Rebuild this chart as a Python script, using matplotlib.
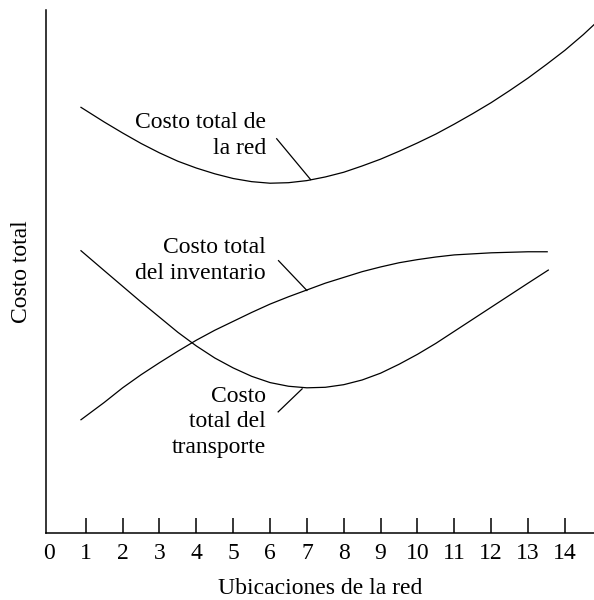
import matplotlib.pyplot as plt

plt.rcParams['font.family'] = ['Liberation Serif', 'DejaVu Serif']

# valores (unidades arbitrarias de costo, 0-100)
x_red = [0.87, 1.5, 2, 2.5, 3, 3.5, 4, 4.5, 5, 5.5, 6, 6.5, 7, 7.5, 8, 8.5, 9, 9.5,
         10, 10.5, 11, 11.5, 12, 12.5, 13, 13.5, 14, 14.5, 14.79]
costo_red = [81.4, 78.6, 76.5, 74.5, 72.7, 71.1, 69.8, 68.7, 67.8, 67.2, 66.9, 67.0, 67.4,
             68.1, 69.0, 70.2, 71.5, 73.0, 74.6, 76.3, 78.2, 80.2, 82.3, 84.6, 87.0, 89.6,
             92.3, 95.3, 97.2]

x_inv = [0.87, 1.5, 2, 2.5, 3, 3.5, 4, 4.5, 5, 5.5, 6, 6.5, 7, 7.5, 8, 8.5, 9, 9.5,
         10, 10.5, 11, 11.5, 12, 12.5, 13, 13.52]
costo_inv = [21.7, 25.0, 27.8, 30.3, 32.6, 34.8, 36.9, 38.8, 40.5, 42.2, 43.8, 45.2, 46.5,
             47.8, 48.9, 50.0, 50.9, 51.7, 52.3, 52.8, 53.2, 53.4, 53.6, 53.7, 53.8, 53.8]

x_tra = [0.87, 1.5, 2, 2.5, 3, 3.5, 4, 4.5, 5, 5.5, 6, 6.5, 7, 7.5, 8, 8.5, 9, 9.5,
         10, 10.5, 11, 11.5, 12, 12.5, 13, 13.55]
costo_tra = [54.0, 50.2, 47.2, 44.2, 41.3, 38.4, 35.8, 33.5, 31.6, 30.0, 28.8, 28.1, 27.8,
             27.9, 28.4, 29.3, 30.6, 32.3, 34.2, 36.3, 38.6, 40.9, 43.2, 45.5, 47.8, 50.3]

ubicaciones = list(range(0, 15))

fig = plt.figure(figsize=(5.94, 6.0), dpi=100)
ax = fig.add_axes([0.0774, 0.1112, 0.9226, 0.8721])

ax.plot(x_red, costo_red, color='black', lw=0.9)
ax.plot(x_inv, costo_inv, color='black', lw=0.9)
ax.plot(x_tra, costo_tra, color='black', lw=0.9)

ax.set_xlim(-0.08, 14.79)
ax.set_ylim(0, 100)

for lado in ['top', 'right']:
    ax.spines[lado].set_visible(False)
for lado in ['left', 'bottom']:
    ax.spines[lado].set_linewidth(1.1)

ax.set_xticks(ubicaciones)
ax.set_xticklabels([str(u) for u in ubicaciones])
ax.tick_params(axis='x', direction='in', length=11, width=1.1, pad=7, labelsize=17)
ax.xaxis.get_major_ticks()[0].tick1line.set_visible(False)
ax.set_yticks([])

ax.set_xlabel('Ubicaciones de la red', fontsize=17, labelpad=10)
ax.set_ylabel('Costo total', fontsize=17, labelpad=10)

# etiquetas con linea guia
ax.text(5.89, 76.0, 'Costo total de\nla red', ha='right', va='center',
        fontsize=17, linespacing=1.3)
ax.plot([6.18, 7.1], [75.4, 67.6], color='black', lw=0.9)

ax.text(5.89, 52.2, 'Costo total\ndel inventario', ha='right', va='center',
        fontsize=17, linespacing=1.3)
ax.plot([6.23, 7.0], [52.1, 46.4], color='black', lw=0.9)

ax.text(5.89, 21.3, 'Costo\ntotal del\ntransporte', ha='right', va='center',
        fontsize=17, linespacing=1.3)
ax.plot([6.22, 6.87], [23.2, 27.6], color='black', lw=0.9)

fig.savefig('out.png', dpi=100)
